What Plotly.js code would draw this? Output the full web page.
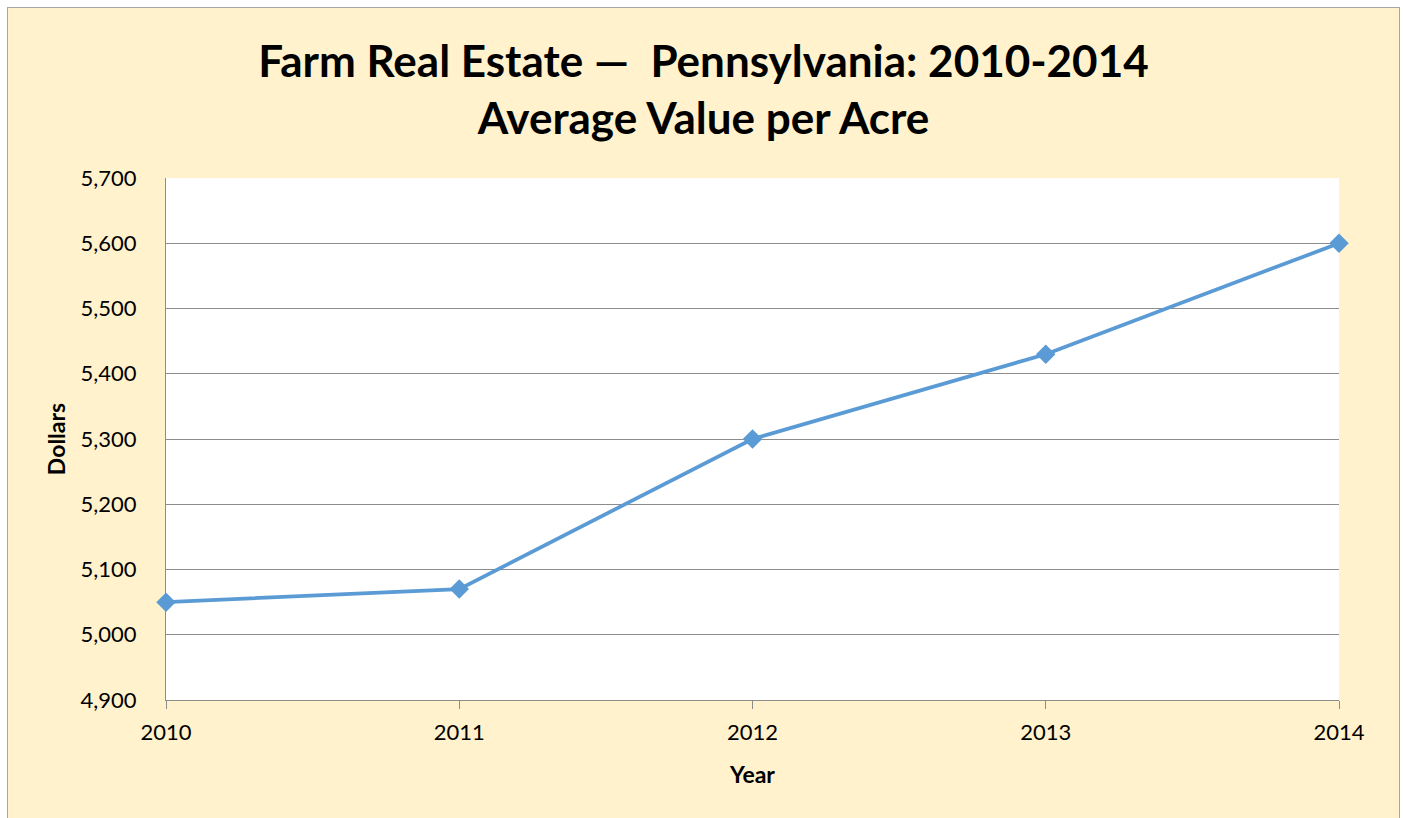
<!DOCTYPE html>
<html>
<head>
<meta charset="utf-8">
<script src="https://cdn.plot.ly/plotly-3.0.1.min.js"></script>
<style>
  html, body { margin: 0; padding: 0; background: #ffffff; overflow: hidden; }
  #frame { position: absolute; left: 7px; top: 7px; width: 1391px; height: 811px;
           border-left: 1px solid #A6A6A6; border-top: 1px solid #A6A6A6; border-right: 1px solid #A6A6A6;
           background: #FFF2CC; }
  #chart { width: 1391px; height: 811px; }
</style>
</head>
<body>
<div id="frame"><div id="chart"></div></div>
<script>
const years = [2010, 2011, 2012, 2013, 2014];
const dollars = [5050, 5070, 5300, 5430, 5600];
const yTicks = [4900, 5000, 5100, 5200, 5300, 5400, 5500, 5600, 5700];
const yTickLabels = ['4,900', '5,000', '5,100', '5,200', '5,300', '5,400', '5,500', '5,600', '5,700'];

const FONT = 'Lato, "Liberation Sans", sans-serif';

const trace = {
  x: years,
  y: dollars,
  type: 'scatter',
  mode: 'lines+markers',
  cliponaxis: false,
  line: { color: '#5B9BD5', width: 3.75 },
  marker: { symbol: 'diamond', size: 15, color: '#5B9BD5' },
  hoverinfo: 'x+y'
};

const layout = {
  width: 1391,
  height: 811,
  paper_bgcolor: 'rgba(0,0,0,0)',
  plot_bgcolor: '#ffffff',
  margin: { l: 158, r: 60, t: 170, b: 119 },
  showlegend: false,
  font: { family: FONT, color: '#000000' },
  title: {
    text: '<b>Farm Real Estate —  Pennsylvania: 2010-2014<br>Average Value per Acre</b>',
    font: { family: FONT, size: 44, color: '#000000' },
    x: 0.5, xanchor: 'center',
    y: 1 - 69 / 811, yref: 'container', yanchor: 'middle'
  },
  xaxis: {
    type: 'linear',
    range: [2010, 2014],
    tickvals: years,
    ticktext: years.map(String),
    showgrid: false,
    zeroline: false,
    showline: true,
    linecolor: '#8C8C8C',
    linewidth: 1,
    ticks: 'outside',
    ticklen: 8,
    tickcolor: '#8C8C8C',
    tickfont: { family: FONT, size: 22, color: '#000000' },
    ticklabelstandoff: 5,
    title: { text: '<b>Year</b>', font: { family: FONT, size: 23, color: '#000000' }, standoff: 22 }
  },
  yaxis: {
    range: [4900, 5700],
    tickvals: yTicks,
    ticktext: yTickLabels,
    showgrid: true,
    gridcolor: '#8C8C8C',
    gridwidth: 1,
    zeroline: false,
    showline: true,
    linecolor: '#8C8C8C',
    linewidth: 1,
    ticks: '',
    tickfont: { family: FONT, size: 22, color: '#000000' },
    ticklabelstandoff: 24,
    title: { text: '<b>Dollars</b>', font: { family: FONT, size: 23, color: '#000000' }, standoff: 8 }
  }
};

Plotly.newPlot('chart', [trace], layout, { displayModeBar: false, responsive: false });
</script>
</body>
</html>
